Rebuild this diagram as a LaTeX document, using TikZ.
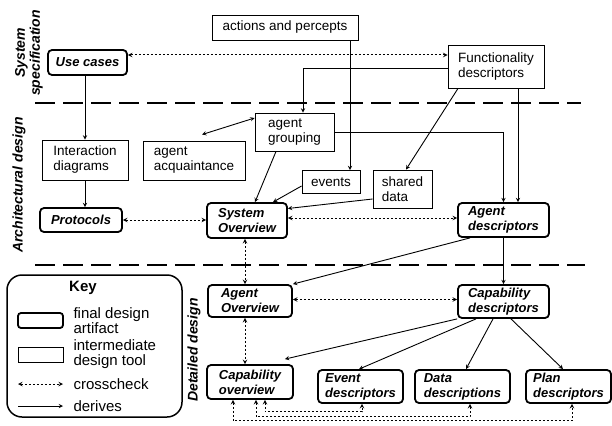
\documentclass[tikz,border=0pt]{standalone}
\usepackage{fontspec}
\setmainfont{Liberation Sans}
\begin{document}
\begin{tikzpicture}[x=1pt,y=-1pt,>=stealth,
  every node/.style={font=\fontsize{13.5}{15}\selectfont, align=left},
  final/.style={draw, rounded corners=4pt, line width=1.8pt, inner sep=2pt, font=\fontsize{13}{15}\selectfont\bfseries\itshape},
  tool/.style={draw, line width=0.9pt, inner sep=2pt},
  derive/.style={->, line width=0.9pt},
  crosscheck/.style={<->, line width=1pt, dash pattern=on 2.5pt off 1.5pt},
  phase/.style={rotate=90, align=center, font=\fontsize{14}{15}\selectfont\bfseries\itshape},
  keytext/.style={anchor=west, font=\fontsize{15}{15}\selectfont},
  separator/.style={line width=2.2pt, dash pattern=on 20pt off 8pt}]
\useasboundingbox (0,0) rectangle (612,425);

% phases
\draw (29,53) node[phase] (specphase) {System\\specification};
\draw (19,185) node[phase] (archphase) {Architectural design};
\draw (194,350) node[phase] (detphase) {Detailed design};

\draw[separator] (35,103) -- (581,103);
\draw[separator] (35,265) -- (585,265);

% system specification
\draw (285,27.5) node[tool, minimum width=146pt, minimum height=25pt] (percepts) {actions and percepts};
\draw (87.5,62.5) node[final, minimum width=79pt, minimum height=25pt] (usecases) {Use cases};
\draw (496,66.5) node[tool, minimum width=96pt, minimum height=43pt] (func) {Functionality\\descriptors};

% architectural design
\draw (294.5,132) node[tool, minimum width=79pt, minimum height=38pt] (grouping) {agent\\grouping};
\draw (194,160.5) node[tool, minimum width=102pt, minimum height=39pt] (acquaint) {agent\\acquaintance};
\draw (85,160) node[tool, minimum width=86pt, minimum height=40pt] (interact) {Interaction\\diagrams};
\draw (331,182) node[tool, minimum width=58pt, minimum height=23pt] (events) {events};
\draw (402.5,189) node[tool, minimum width=59pt, minimum height=38pt] (shared) {shared\\data};
\draw (81,220) node[final, minimum width=82pt, minimum height=24pt] (protocols) {Protocols};
\draw (247,220.5) node[final, minimum width=80pt, minimum height=35pt] (sysov) {System\\Overview};
\draw (503.5,220) node[final, minimum width=91pt, minimum height=34pt] (agdesc) {Agent\\descriptors};

% detailed design
\draw (250,301) node[final, minimum width=84pt, minimum height=32pt] (agov) {Agent\\Overview};
\draw (503.5,301.5) node[final, minimum width=91pt, minimum height=33pt] (capdesc) {Capability\\descriptors};
\draw (250,382) node[final, minimum width=86pt, minimum height=34pt] (capov) {Capability\\overview};
\draw (360.5,386.5) node[final, minimum width=85pt, minimum height=33pt] (evdesc) {Event\\descriptors};
\draw (462.5,386.5) node[final, minimum width=95pt, minimum height=33pt] (datadesc) {Data\\descriptions};
\draw (568.5,386.5) node[final, minimum width=85pt, minimum height=33pt] (plandesc) {Plan\\descriptors};

% connectors
\draw[crosscheck] ([yshift=7.5pt]usecases.east) -- ([yshift=11.5pt]func.west);
\draw[derive] ([xshift=-2.5pt]usecases.south) -- (interact.north);
\draw[derive] (interact.south) -- (interact.south |- protocols.north);
\draw[crosscheck] (protocols.east) -- (protocols.east -| sysov.west);
\draw[derive] ([yshift=-1.5pt]func.west) -| ([xshift=8.5pt]grouping.north);
\draw[derive] ([xshift=65pt]percepts.south) -- ([xshift=19pt]events.north);
\draw[<->, line width=0.9pt] ([yshift=14pt]grouping.west) -- ([xshift=8pt,yshift=6pt]acquaint.north);
\draw[derive] ([xshift=-18.5pt]grouping.south) -- ([xshift=8pt]sysov.north);
\draw[derive] ([yshift=-4pt]events.west) -- ([xshift=26pt]sysov.north);
\draw[derive] ([yshift=-10pt]shared.west) -- ([yshift=12pt]sysov.east);
\draw[derive] (grouping.east) -| (agdesc.north);
\draw[derive] ([xshift=22pt]func.south) -- ([xshift=14.5pt]agdesc.north);
\draw[derive] ([xshift=-38pt]func.south) -- ([xshift=3.5pt]shared.north);
\draw[crosscheck] ([yshift=2.5pt]sysov.east) -- ([yshift=2pt]agdesc.west);

\draw[crosscheck] ([xshift=-2pt]sysov.south) -- ([xshift=-5pt]agov.north);
\draw[derive] (agdesc.south) -- (capdesc.north);
\draw[derive] ([xshift=-33.5pt]agdesc.south) -- (agov.north east);
\draw[crosscheck] ([yshift=1.5pt]agov.east) -- ([yshift=2pt]capdesc.west);
\draw[crosscheck] ([xshift=-5pt]agov.south) -- ([xshift=-5pt]capov.north);
\draw[derive] (capdesc.south west) -- ([xshift=-9pt,yshift=5pt]capov.north east);
\draw[derive] ([xshift=-27.5pt]capdesc.south) -- ([xshift=-1.5pt]evdesc.north);
\draw[derive] ([xshift=-10.5pt]capdesc.south) -- ([xshift=3.5pt]datadesc.north);
\draw[derive] ([xshift=7.5pt]capdesc.south) -- ([xshift=-5.5pt]plandesc.north);

\draw[crosscheck] ([xshift=15pt]capov.south) -- ++(0,12) -| ([xshift=1.5pt]evdesc.south);
\draw[crosscheck] ([xshift=6pt]capov.south) -- ++(0,17) -| ([xshift=7.5pt]datadesc.south);
\draw[crosscheck] ([xshift=-17pt]capov.south) -- ++(0,21) -| ([xshift=3.5pt]plandesc.south);

% key
\draw (94.5,346) node[draw, rounded corners=15pt, line width=1.5pt, minimum width=175pt, minimum height=142pt] (keybox) {};
\draw (83,288) node[font=\fontsize{15}{16}\selectfont\bfseries] (keytitle) {Key};
\draw (40.5,320.5) node[final, minimum width=45pt, minimum height=15pt, rounded corners=3pt] (keyfinal) {};
\draw (40.5,354.5) node[tool, minimum width=45pt, minimum height=15pt] (keytool) {};
\draw (70,320.5) node[keytext] (finallabel) {final design\\artifact};
\draw (70,354.5) node[keytext] (toollabel) {intermediate\\design tool};
\draw (70,384) node[keytext] (crosslabel) {crosscheck};
\draw (70,406) node[keytext] (derivelabel) {derives};
\coordinate (crossa) at (18,384);
\coordinate (crossb) at (63,384);
\coordinate (derivea) at (18,406);
\coordinate (deriveb) at (63,406);
\draw[crosscheck] (crossa) -- (crossb);
\draw[derive] (derivea) -- (deriveb);
\end{tikzpicture}
\end{document}
